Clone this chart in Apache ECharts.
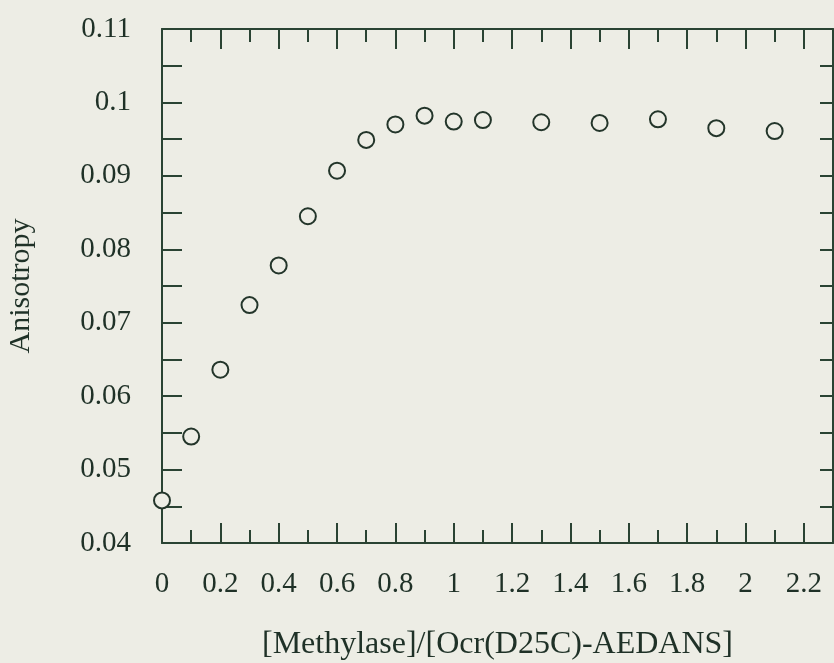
<!DOCTYPE html>
<html>
<head>
<meta charset="utf-8">
<script src="https://cdn.jsdelivr.net/npm/echarts@6/dist/echarts.min.js"></script>
<style>
  html, body { margin: 0; padding: 0; background: #edede5; }
  #chart { width: 834px; height: 663px; }
</style>
</head>
<body>
<div id="chart"></div>
<script>
// Titration: methylase / labelled Ocr ratio vs. anisotropy
var ratio = [0, 0.1, 0.2, 0.3, 0.4, 0.5, 0.6, 0.7, 0.8, 0.9, 1.0, 1.1, 1.3, 1.5, 1.7, 1.9, 2.1];
var anisotropy = [0.0458, 0.0545, 0.0636, 0.0724, 0.0778, 0.0845, 0.0907, 0.0949, 0.0970, 0.0982,
                  0.0974, 0.0976, 0.0973, 0.0972, 0.0977, 0.0965, 0.0961];

// Axis tick positions and labels
var xMajorTicks = [0, 0.2, 0.4, 0.6, 0.8, 1, 1.2, 1.4, 1.6, 1.8, 2, 2.2];
var xMinorTicks = [0.1, 0.3, 0.5, 0.7, 0.9, 1.1, 1.3, 1.5, 1.7, 1.9, 2.1];
var yLabelValues = [0.04, 0.05, 0.06, 0.07, 0.08, 0.09, 0.1, 0.11];
var yTicks = [0.045, 0.05, 0.055, 0.06, 0.065, 0.07, 0.075, 0.08, 0.085, 0.09, 0.095, 0.1, 0.105];

var BG = '#edede5';
var INK = '#2a4333';
var TEXT = '#1f3127';
var FONT = '"Liberation Serif", "Times New Roman", serif';
var X_MIN = 0, X_MAX = 2.3, Y_MIN = 0.04, Y_MAX = 0.11;

var chart = echarts.init(document.getElementById('chart'));

function xAxisDef(position, ticks, len, withLabels, withLine, name) {
  return {
    type: 'value', position: position, min: X_MIN, max: X_MAX,
    name: name || '', nameLocation: 'middle', nameGap: 86,
    nameTextStyle: { fontFamily: FONT, fontSize: 32, color: TEXT },
    axisLine: { show: withLine, onZero: false, lineStyle: { color: INK, width: 2 } },
    axisTick: { show: true, inside: true, length: len, customValues: ticks,
                lineStyle: { color: INK, width: 2 } },
    axisLabel: { show: withLabels, customValues: withLabels ? xMajorTicks : undefined,
                 margin: 27, fontFamily: FONT, fontSize: 29, color: TEXT },
    splitLine: { show: false }
  };
}

function yAxisDef(position, len, withLabels, name) {
  return {
    type: 'value', position: position, min: Y_MIN, max: Y_MAX,
    name: name || '', nameLocation: 'middle', nameGap: 126,
    nameTextStyle: { fontFamily: FONT, fontSize: 30, color: TEXT },
    axisLine: { show: true, onZero: false, lineStyle: { color: INK, width: 2 } },
    axisTick: { show: true, inside: true, length: len, customValues: yTicks,
                lineStyle: { color: INK, width: 2 } },
    axisLabel: { show: withLabels, customValues: withLabels ? yLabelValues : undefined,
                 margin: 31, fontFamily: FONT, fontSize: 29, color: TEXT },
    splitLine: { show: false }
  };
}

chart.setOption({
  backgroundColor: BG,
  animation: false,
  grid: { left: 162, top: 29, right: 1, bottom: 120, containLabel: false, outerBoundsMode: 'none' },
  xAxis: [
    xAxisDef('bottom', xMajorTicks, 20, true, true, '[Methylase]/[Ocr(D25C)-AEDANS]'),
    xAxisDef('bottom', xMinorTicks, 13, false, false),
    xAxisDef('top', xMajorTicks, 20, false, true),
    xAxisDef('top', xMinorTicks, 13, false, false)
  ],
  yAxis: [
    yAxisDef('left', 20, true, 'Anisotropy'),
    yAxisDef('right', 13, false)
  ],
  series: [{
    type: 'scatter',
    xAxisIndex: 0, yAxisIndex: 0,
    data: ratio.map(function (r, i) { return [r, anisotropy[i]]; }),
    symbol: 'circle',
    symbolSize: 16,
    itemStyle: { color: BG, borderColor: '#23352a', borderWidth: 2, opacity: 1 },
    z: 10
  }]
});
</script>
</body>
</html>
